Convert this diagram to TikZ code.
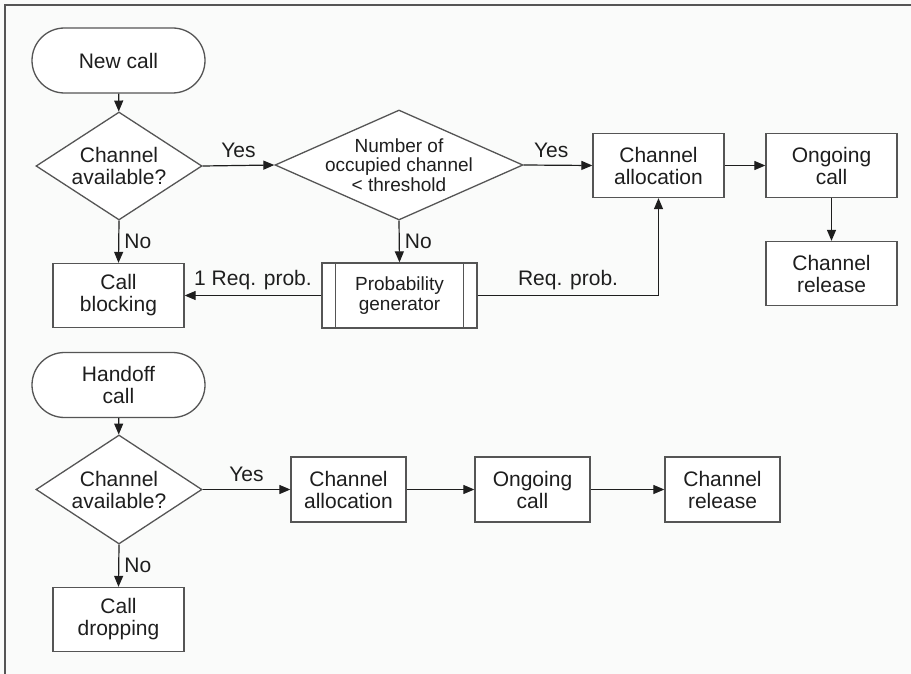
\documentclass[tikz,border=0pt]{standalone}
\usepackage{fontspec}
\setmainfont{Liberation Sans}
\usetikzlibrary{shapes.geometric,arrows.meta}
\definecolor{bg}{RGB}{250,251,250}
\definecolor{ink}{RGB}{30,30,30}
\definecolor{edge}{RGB}{85,85,85}
\begin{document}
\begin{tikzpicture}[x=1pt,y=-1pt,
  every node/.style={font=\fontsize{21}{22}\selectfont, text=ink, align=center},
  smalltext/.style={font=\fontsize{19}{19.5}\selectfont},
  base/.style={draw=edge, line width=1.3pt, fill=white, inner sep=0pt},
  terminal/.style={base, rounded corners=32.5pt, minimum width=173pt, minimum height=65pt},
  procbox/.style={base, minimum width=131pt, minimum height=64pt},
  widebox/.style={base, minimum width=115pt, minimum height=65pt},
  decision/.style={base, diamond},
  flow/.style={draw=ink, line width=1.2pt, -{Triangle[length=11pt,width=9pt]}},
  lbl/.style={inner sep=2pt}]
  % canvas and frame
  \fill[bg] (0,0) rectangle (911,674);
  \useasboundingbox (0,0) rectangle (911,674);
  \draw[edge, line width=1.5pt] (5,674) -- (5,5) -- (911,5);

  % ---- new call branch ----
  \node[terminal] (new) at (118.5,60.5) {New call};
  \node[decision, minimum width=166pt, minimum height=108pt] (ch1) at (119,166) {};
  \node at (ch1) {Channel\\available?};
  \node[decision, minimum width=248pt, minimum height=110pt] (thr) at (399,165) {};
  \node[smalltext] at (thr) {Number of\\occupied channel\\< threshold};
  \node[procbox] (ca1) at (658.5,165.5) {Channel\\allocation};
  \node[procbox] (og1) at (831.5,165.5) {Ongoing\\call};
  \node[procbox] (cr1) at (831.5,273.5) {Channel\\release};
  \node[procbox] (blk) at (118.5,295.5) {Call\\blocking};
  \node[base, smalltext, minimum width=155pt, minimum height=65pt] (pg) at (399.5,295.5) {Probability\\generator};
  \draw[edge, line width=1.3pt] ([xshift=14pt]pg.north west) -- ([xshift=14pt]pg.south west);
  \draw[edge, line width=1.3pt] ([xshift=-14pt]pg.north east) -- ([xshift=-14pt]pg.south east);

  \draw[flow] (new) -- (ch1);
  \draw[flow] (ch1.east) -- node[lbl, above=5pt] {Yes} (thr.west);
  \draw[flow] (ch1.south) -- node[lbl, right=3pt] {No} (blk.north);
  \draw[flow] (thr.east) -- node[lbl, above=5pt, pos=0.4] {Yes} (ca1.west);
  \draw[flow] (thr.south) -- node[lbl, right=3pt] {No} (pg.north);
  \draw[flow] (pg.west) -- node[lbl, above=3pt] {1 Req. prob.} (blk.east);
  \draw[flow] (pg.east) -| node[lbl, above=3pt, pos=0.25] {Req. prob.} (ca1.south);
  \draw[flow] (ca1) -- (og1);
  \draw[flow] (og1) -- (cr1);

  % ---- handoff call branch ----
  \node[terminal] (hand) at (118.5,385) {Handoff\\call};
  \node[decision, minimum width=166pt, minimum height=109pt] (ch2) at (119,489.5) {};
  \node at (ch2) {Channel\\available?};
  \node[procbox] (drop) at (118.5,619.5) {Call\\dropping};
  \node[widebox] (ca2) at (348.5,489.5) {Channel\\allocation};
  \node[widebox] (og2) at (532.5,489.5) {Ongoing\\call};
  \node[widebox] (cr2) at (722.5,489.5) {Channel\\release};

  \draw[flow] (hand) -- (ch2);
  \draw[flow] (ch2.east) -- node[lbl, above=5pt] {Yes} (ca2.west);
  \draw[flow] (ch2.south) -- node[lbl, right=3pt] {No} (drop.north);
  \draw[flow] (ca2) -- (og2);
  \draw[flow] (og2) -- (cr2);
\end{tikzpicture}
\end{document}
